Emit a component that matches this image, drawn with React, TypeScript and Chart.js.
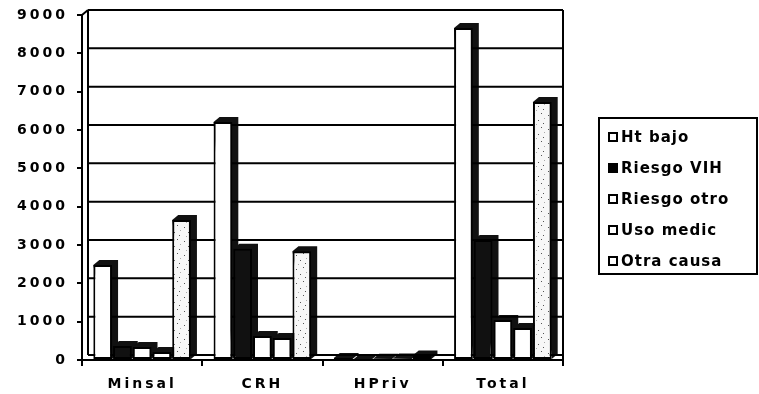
import React, { useEffect, useRef } from "react";
import { Chart, registerables } from "chart.js";

Chart.register(...registerables);

const categories = ["Minsal", "CRH", "HPriv", "Total"];
const seriesNames = ["Ht bajo", "Riesgo VIH", "Riesgo otro", "Uso medic", "Otra causa"];
const htBajo = [2480, 6210, 50, 8660];
const riesgoVIH = [365, 2900, 20, 3130];
const riesgoOtro = [340, 625, 30, 1045];
const usoMedic = [210, 575, 40, 835];
const otraCausa = [3650, 2840, 120, 6730];
const yMin = 0;
const yMax = 9000;
const yStep = 1000;

const seriesValues = [htBajo, riesgoVIH, riesgoOtro, usoMedic, otraCausa];

function makeSpeckle(): CanvasPattern | string {
  const c = document.createElement("canvas");
  c.width = 14;
  c.height = 14;
  const g = c.getContext("2d");
  if (!g) return "#f2f2f2";
  g.fillStyle = "#f7f7f7";
  g.fillRect(0, 0, 14, 14);
  g.fillStyle = "#555";
  g.fillRect(2, 3, 1, 1);
  g.fillRect(9, 1, 1, 1);
  g.fillRect(6, 8, 1, 1);
  g.fillRect(11, 11, 1, 1);
  g.fillStyle = "#aaa";
  g.fillRect(4, 12, 1, 1);
  g.fillRect(12, 6, 1, 1);
  const p = g.createPattern(c, "repeat");
  return p || "#f2f2f2";
}

const DEPTH_X = 6;
const DEPTH_Y = 5;

const depthPlugin = {
  id: "depth3d",
  beforeDatasetsDraw(chart: any) {
    const ctx = chart.ctx;
    ctx.save();
    ctx.fillStyle = "#111";
    chart.data.datasets.forEach((_: any, di: number) => {
      const meta = chart.getDatasetMeta(di);
      meta.data.forEach((el: any) => {
        const p = el.getProps(["x", "y", "base", "width"], true);
        const left = p.x - p.width / 2;
        const right = p.x + p.width / 2;
        ctx.beginPath();
        ctx.moveTo(left, p.y);
        ctx.lineTo(left + DEPTH_X, p.y - DEPTH_Y);
        ctx.lineTo(right + DEPTH_X, p.y - DEPTH_Y);
        ctx.lineTo(right + DEPTH_X, p.base - DEPTH_Y);
        ctx.lineTo(right, p.base);
        ctx.closePath();
        ctx.fill();
      });
    });
    ctx.restore();
  },
};

const framePlugin = {
  id: "frame",
  beforeDraw(chart: any) {
    chart.ctx.letterSpacing = "3px";
  },
  beforeDatasetsDraw(chart: any) {
    const { ctx, chartArea, scales } = chart;
    const ys = scales.y;
    ctx.save();
    ctx.strokeStyle = "#000";
    ctx.lineWidth = 2;
    ctx.beginPath();
    for (let v = yMin; v <= yMax; v += yStep) {
      const py = ys.getPixelForValue(v) - DEPTH_Y;
      ctx.moveTo(chartArea.left + DEPTH_X, py);
      ctx.lineTo(chartArea.right, py);
    }
    ctx.moveTo(chartArea.left + DEPTH_X, chartArea.top - DEPTH_Y);
    ctx.lineTo(chartArea.left + DEPTH_X, chartArea.bottom - DEPTH_Y);
    ctx.moveTo(chartArea.left, chartArea.top);
    ctx.lineTo(chartArea.left + DEPTH_X, chartArea.top - DEPTH_Y);
    ctx.moveTo(chartArea.right, chartArea.top - DEPTH_Y);
    ctx.lineTo(chartArea.right, chartArea.bottom);
    ctx.stroke();
    ctx.restore();
  },
};

const legendSwatches = [
  { bg: "#fff", border: "#000" },
  { bg: "#000", border: "#000" },
  { bg: "#fff", border: "#000" },
  { bg: "#fff", border: "#000" },
  { bg: "#fff", border: "#000" },
];

export default function App() {
  const ref = useRef<HTMLCanvasElement | null>(null);

  useEffect(() => {
    if (!ref.current) return;
    const speckle = makeSpeckle();
    const fills = ["#ffffff", "#111111", "#ffffff", "#ffffff", speckle];
    const chart = new Chart(ref.current, {
      type: "bar",
      data: {
        labels: categories,
        datasets: seriesNames.map((name, i) => ({
          label: name,
          data: seriesValues[i],
          backgroundColor: fills[i] as any,
          borderColor: "#000",
          borderWidth: 2,
          borderSkipped: false,
          categoryPercentage: 0.82,
          barPercentage: 0.95,
        })),
      },
      options: {
        responsive: false,
        devicePixelRatio: 1,
        animation: false,
        layout: { padding: { left: 0, right: 196, top: 15, bottom: 0 } },
        plugins: {
          legend: { display: false },
          tooltip: { enabled: false },
        },
        scales: {
          x: {
            offset: true,
            grid: {
              offset: true,
              drawOnChartArea: false,
              drawTicks: true,
              tickLength: 6,
              color: "#000",
              lineWidth: 2,
            },
            border: { display: true, color: "#000", width: 2 },
            ticks: {
              color: "#000",
              padding: 10,
              font: { family: "'DejaVu Sans', sans-serif", size: 14, weight: "bold" },
            },
            afterFit: (scale: any) => {
              scale.height = 34;
            },
          },
          y: {
            min: yMin,
            max: yMax,
            grid: {
              color: "#000",
              lineWidth: 2,
              drawOnChartArea: false,
              drawTicks: true,
              tickLength: 5,
            },
            border: { display: true, color: "#000", width: 2 },
            ticks: {
              stepSize: yStep,
              color: "#000",
              padding: 9,
              font: { family: "'DejaVu Sans', sans-serif", size: 14, weight: "bold" },
              callback: (v: any) => String(v),
            },
            afterFit: (scale: any) => {
              scale.width = 82;
              scale.paddingTop = 0;
              scale.paddingBottom = 0;
            },
          },
        },
      },
      plugins: [depthPlugin, framePlugin],
    });
    return () => chart.destroy();
  }, []);

  return (
    <div
      style={{
        position: "fixed",
        left: 0,
        top: 0,
        width: 759,
        height: 394,
        background: "#fff",
        overflow: "hidden",
      }}
    >
      <canvas ref={ref} width={759} height={394} style={{ width: 759, height: 394, display: "block" }} />
      <div
        style={{
          position: "absolute",
          left: 598,
          top: 117,
          width: 156,
          height: 154,
          border: "2px solid #000",
          fontFamily: "'DejaVu Sans', sans-serif",
          fontWeight: "bold",
          fontSize: 15,
          letterSpacing: "1px",
          color: "#000",
        }}
      >
        {seriesNames.map((name, i) => (
          <div
            key={name}
            style={{
              position: "absolute",
              left: 8,
              top: 8 + i * 31,
              height: 20,
              display: "flex",
              alignItems: "center",
              whiteSpace: "nowrap",
            }}
          >
            <span
              style={{
                display: "inline-block",
                width: 6,
                height: 6,
                border: `2px solid ${legendSwatches[i].border}`,
                background: legendSwatches[i].bg,
                marginRight: 3,
              }}
            />
            <span>{name}</span>
          </div>
        ))}
      </div>
    </div>
  );
}
